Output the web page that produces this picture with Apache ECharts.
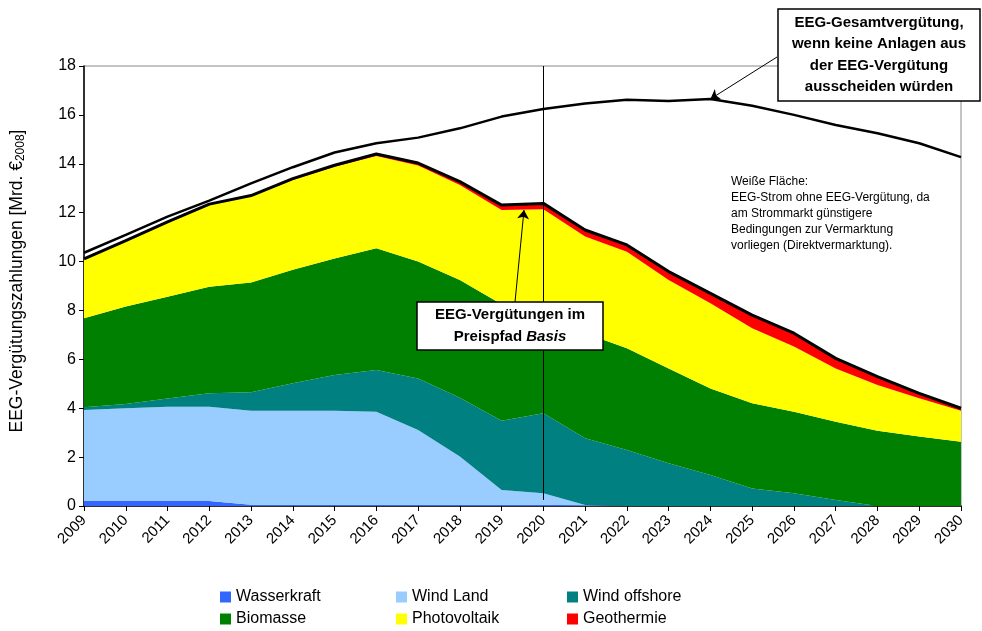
<!DOCTYPE html>
<html>
<head>
<meta charset="utf-8">
<script src="https://cdn.jsdelivr.net/npm/echarts@6/dist/echarts.min.js"></script>
<style>
  html, body { margin: 0; padding: 0; background: #fff; }
  #main { width: 982px; height: 631px; }
</style>
</head>
<body>
<div id="main"></div>
<script>
// Jahre
var years = ['2009', '2010', '2011', '2012', '2013', '2014', '2015', '2016', '2017', '2018', '2019',
  '2020', '2021', '2022', '2023', '2024', '2025', '2026', '2027', '2028', '2029', '2030'];

// EEG-Vergütungen im Preispfad Basis [Mrd. €2008], gestapelt
var wasserkraft = [0.2, 0.2, 0.2, 0.2, 0.05, 0.05, 0.05, 0.05, 0.05, 0.05, 0.05, 0.05, 0.02, 0, 0, 0, 0, 0, 0, 0, 0, 0];
var windLand = [3.73, 3.8, 3.86, 3.86, 3.85, 3.85, 3.85, 3.81, 3.06, 1.97, 0.6, 0.47, 0.02, 0, 0, 0, 0, 0, 0, 0, 0, 0];
var windOffshore = [0.11, 0.17, 0.34, 0.55, 0.75, 1.12, 1.46, 1.7, 2.11, 2.41, 2.84, 3.27, 2.73, 2.29, 1.75, 1.27, 0.72, 0.52, 0.25, 0, 0, 0];
var biomasse = [3.64, 3.99, 4.16, 4.36, 4.49, 4.64, 4.77, 4.98, 4.78, 4.82, 4.76, 4.11, 4.3, 4.16, 3.88, 3.54, 3.48, 3.34, 3.2, 3.08, 2.84, 2.63];
var photovoltaik = [2.41, 2.68, 3.03, 3.35, 3.52, 3.68, 3.75, 3.78, 3.93, 3.88, 3.86, 4.24, 3.95, 3.95, 3.62, 3.48, 3.07, 2.66, 2.18, 1.87, 1.57, 1.27];
var geothermie = [0.02, 0.02, 0.03, 0.03, 0.04, 0.05, 0.06, 0.08, 0.1, 0.14, 0.2, 0.24, 0.27, 0.28, 0.34, 0.41, 0.54, 0.55, 0.41, 0.34, 0.2, 0.1];

// EEG-Gesamtvergütung ohne Ausscheiden von Anlagen
var gesamt = [10.36, 11.09, 11.84, 12.49, 13.2, 13.86, 14.46, 14.84, 15.07, 15.45, 15.93, 16.24, 16.47, 16.62, 16.57, 16.65, 16.37, 16.0, 15.59, 15.25, 14.84, 14.27];

var yTicks = [0, 2, 4, 6, 8, 10, 12, 14, 16, 18];

var font = 'Liberation Sans';

function area(name, data, color) {
  return {
    name: name,
    type: 'line',
    stack: 'total',
    data: data,
    showSymbol: false,
    symbol: 'none',
    silent: true,
    itemStyle: { color: color },
    lineStyle: { width: 0, color: color },
    areaStyle: { color: color, opacity: 1 }
  };
}

var myChart = echarts.init(document.getElementById('main'));

var geo = area('Geothermie', geothermie, '#FF0000');
geo.lineStyle = { width: 3, color: '#000' };

var legendBase = {
  orient: 'vertical',
  top: 589,
  padding: 0,
  itemGap: 6,
  itemWidth: 11,
  itemHeight: 11,
  icon: 'rect',
  textStyle: { fontFamily: font, fontSize: 16, color: '#000', padding: [0, 0, 0, 0] },
  selectedMode: false
};

var option = {
  animation: false,
  backgroundColor: '#fff',
  textStyle: { fontFamily: font },
  grid: {
    left: 84,
    right: 21,
    top: 66,
    bottom: 125,
    show: true,
    borderColor: '#888',
    borderWidth: 1
  },
  legend: [
    Object.assign({}, legendBase, { left: 220, data: ['Wasserkraft', 'Biomasse'] }),
    Object.assign({}, legendBase, { left: 396, data: ['Wind Land', 'Photovoltaik'] }),
    Object.assign({}, legendBase, { left: 567, data: ['Wind offshore', 'Geothermie'] })
  ],
  xAxis: {
    type: 'category',
    data: years,
    boundaryGap: false,
    axisLine: { lineStyle: { color: '#000', width: 1.5 } },
    axisTick: { show: true, interval: 0, length: 5, lineStyle: { color: '#000' } },
    axisLabel: { interval: 0, rotate: 45, fontSize: 15, color: '#000', fontFamily: font, margin: 12 },
    splitLine: { show: false }
  },
  yAxis: {
    type: 'value',
    min: yTicks[0],
    max: yTicks[yTicks.length - 1],
    interval: 2,
    name: 'EEG-Vergütungszahlungen [Mrd. €{sub|2008}]',
    nameLocation: 'middle',
    nameGap: 57,
    nameTextStyle: {
      fontSize: 17.5,
      color: '#000',
      fontFamily: font,
      padding: [0, 0, 0, 10],
      rich: { sub: { fontSize: 12, fontFamily: font, color: '#000', verticalAlign: 'bottom', padding: [7, 0, 0, 0] } }
    },
    axisLine: { show: true, lineStyle: { color: '#000', width: 1.5 } },
    axisTick: { show: true, length: 5, lineStyle: { color: '#000' } },
    axisLabel: { fontSize: 16, color: '#000', fontFamily: font, margin: 8 },
    splitLine: { show: false }
  },
  series: [
    area('Wasserkraft', wasserkraft, '#3366FF'),
    area('Wind Land', windLand, '#99CCFF'),
    area('Wind offshore', windOffshore, '#008080'),
    area('Biomasse', biomasse, '#008000'),
    area('Photovoltaik', photovoltaik, '#FFFF00'),
    geo,
    {
      name: 'Gesamt',
      type: 'line',
      data: gesamt,
      showSymbol: false,
      symbol: 'none',
      silent: true,
      z: 5,
      lineStyle: { color: '#000', width: 2.5 },
      markLine: {
        silent: true,
        symbol: ['none', 'none'],
        label: { show: false },
        lineStyle: { color: '#000', width: 1, type: 'solid' },
        data: [
          [{ coord: ['2020', 0.25] }, { coord: ['2020', 18] }],
          [{ x: 777, y: 57, symbol: 'none' }, { coord: ['2024', 16.65], symbol: 'arrow', symbolSize: 9 }],
          [{ x: 515, y: 302, symbol: 'none' }, { x: 524, y: 210, symbol: 'arrow', symbolSize: 9 }]
        ]
      }
    }
  ],
  graphic: [
    {
      type: 'rect', z: 100,
      shape: { x: 778, y: 9, width: 202, height: 92 },
      style: { fill: '#fff', stroke: '#000', lineWidth: 1.5 }
    },
    {
      type: 'text', z: 101, x: 879, y: 55,
      style: {
        text: 'EEG-Gesamtvergütung,\nwenn keine Anlagen aus\nder EEG-Vergütung\nausscheiden würden',
        font: 'bold 15px "Liberation Sans"', fill: '#000',
        align: 'center', verticalAlign: 'middle', lineHeight: 21.5
      }
    },
    {
      type: 'rect', z: 100,
      shape: { x: 417, y: 302, width: 186, height: 48 },
      style: { fill: '#fff', stroke: '#000', lineWidth: 1.5 }
    },
    {
      type: 'text', z: 101, x: 510, y: 326,
      style: {
        text: '{b|EEG-Vergütungen im}\n{b|Preispfad }{i|Basis}',
        align: 'center', verticalAlign: 'middle', lineHeight: 22,
        rich: {
          b: { font: 'bold 15px "Liberation Sans"', fill: '#000', lineHeight: 22 },
          i: { font: 'italic bold 15px "Liberation Sans"', fill: '#000', lineHeight: 22 }
        }
      }
    },
    {
      type: 'text', z: 101, x: 731, y: 174,
      style: {
        text: 'Weiße Fläche:\nEEG-Strom ohne EEG-Vergütung, da\nam Strommarkt günstigere\nBedingungen zur Vermarktung\nvorliegen (Direktvermarktung).',
        font: '12px "Liberation Sans"', fill: '#000', lineHeight: 16,
        align: 'left', verticalAlign: 'top'
      }
    }
  ]
};

myChart.setOption(option);
</script>
</body>
</html>
